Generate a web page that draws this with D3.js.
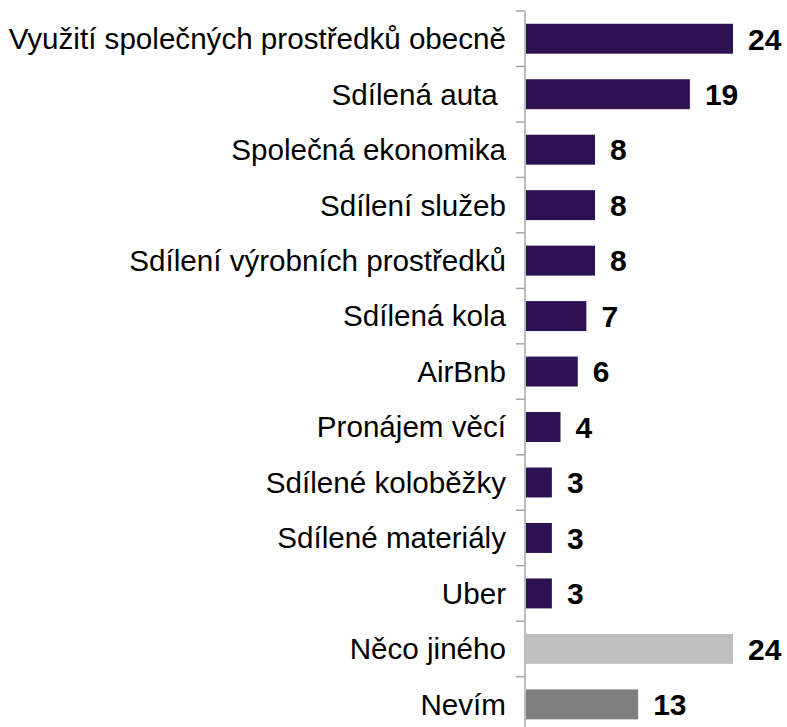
<!DOCTYPE html>
<html><head><meta charset="utf-8">
<script src="https://cdn.jsdelivr.net/npm/d3@7"></script>
<style>body{margin:0;background:#fff}</style>
</head><body>
<script>
const categories = ["Využití společných prostředků obecně","Sdílená auta ","Společná ekonomika","Sdílení služeb","Sdílení výrobních prostředků","Sdílená kola","AirBnb","Pronájem věcí","Sdílené koloběžky","Sdílené materiály","Uber","Něco jiného","Nevím"];
const values = [24,19,8,8,8,7,6,4,3,3,3,24,13];
const colors = ["#2D1152","#2D1152","#2D1152","#2D1152","#2D1152","#2D1152","#2D1152","#2D1152","#2D1152","#2D1152","#2D1152","#BFBFBF","#7F7F7F"];

const W = 787, H = 727;
const svg = d3.select("body").append("svg").attr("width", W).attr("height", H);
const x0 = 525;
const x = d3.scaleLinear().domain([0, 24]).range([x0, x0 + 207]);
const y = d3.scaleBand().domain(categories).range([11, 11 + 55.47 * 13]).paddingInner(0.46).paddingOuter(0.23);

const g = svg.append("g");
g.selectAll("rect").data(values).join("rect")
  .attr("x", x(0) + 1)
  .attr("y", (d, i) => y(categories[i]))
  .attr("width", d => x(d) - x(0))
  .attr("height", y.bandwidth())
  .attr("fill", (d, i) => colors[i]);

const step = y.step();
const axis = svg.append("g");
axis.append("line").attr("x1", x0).attr("x2", x0).attr("y1", 11).attr("y2", H)
  .attr("stroke", "#A6A6A6").attr("stroke-width", 1.5);
d3.range(categories.length).forEach(i => {
  axis.append("line").attr("x1", x0 - 9).attr("x2", x0).attr("y1", 11 + i * step).attr("y2", 11 + i * step)
    .attr("stroke", "#A6A6A6").attr("stroke-width", 1.5);
});

svg.selectAll("text.cat").data(categories).join("text").attr("class", "cat")
  .attr("x", 506)
  .attr("y", d => y(d) + y.bandwidth() / 2)
  .attr("dy", "0.35em")
  .attr("text-anchor", "end")
  .style("white-space", "pre")
  .attr("font-family", "Liberation Sans, Arial, sans-serif")
  .attr("font-size", 29.6)
  .attr("fill", "#000")
  .text(d => d);

svg.selectAll("text.val").data(values).join("text").attr("class", "val")
  .attr("x", d => x(d) + 16)
  .attr("y", (d, i) => y(categories[i]) + y.bandwidth() / 2)
  .attr("dy", "0.36em")
  .attr("font-family", "Liberation Sans, Arial, sans-serif")
  .attr("font-weight", "bold")
  .attr("font-size", 30)
  .attr("fill", "#000")
  .text(d => d);
</script>
</body></html>
